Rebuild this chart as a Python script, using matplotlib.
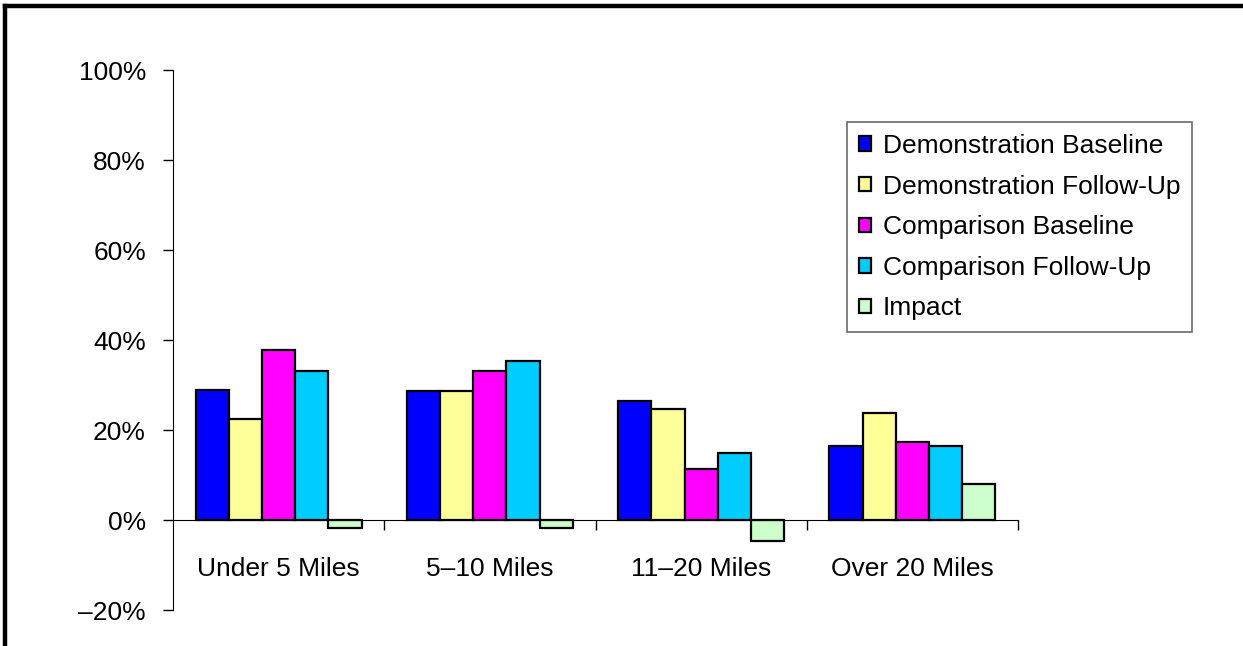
import numpy as np
import matplotlib.pyplot as plt
from matplotlib.lines import Line2D
from matplotlib.ticker import FuncFormatter

plt.rcParams["font.family"] = ["Liberation Sans", "DejaVu Sans"]

categories = ["Under 5 Miles", "5\u201310 Miles", "11\u201320 Miles", "Over 20 Miles"]
series = ["Demonstration Baseline", "Demonstration Follow-Up",
          "Comparison Baseline", "Comparison Follow-Up", "Impact"]
demo_base = [28.9, 28.6, 26.4, 16.5]
demo_follow = [22.5, 28.6, 24.6, 23.8]
comp_base = [37.8, 33.2, 11.4, 17.4]
comp_follow = [33.2, 35.3, 15.0, 16.5]
impact = [-1.7, -1.7, -4.7, 8.1]
colors = ["#0000FF", "#FFFF99", "#FF00FF", "#00CCFF", "#CCFFCC"]

values = [demo_base, demo_follow, comp_base, comp_follow, impact]
FS = 19

fig = plt.figure(figsize=(12.43, 6.46), dpi=100)
ax = fig.add_axes([0.1392, 0.0557, 0.819 - 0.1392, 0.8916 - 0.0557])

n = len(series)
width = 0.157
centers = np.arange(len(categories)) + 0.5
for i, (name, vals, col) in enumerate(zip(series, values, colors)):
    x = centers + (i - (n - 1) / 2) * width
    ax.bar(x, vals, width=width, color=col, edgecolor="black",
           linewidth=1.6, label=name, zorder=3)

ax.set_xlim(0, len(categories))
ax.set_ylim(-20, 100)
ax.set_yticks(range(-20, 101, 20))
ax.yaxis.set_major_formatter(FuncFormatter(
    lambda v, p: f"{int(v)}%".replace("-", "\u2013")))

# boundaries between groups get tick marks, labels sit at group centres
ax.set_xticks(range(1, len(categories) + 1))
ax.set_xticklabels([])
ax.set_xticks(centers, minor=True)
ax.set_xticklabels(categories, minor=True)
ax.tick_params(axis="x", which="major", direction="out", length=7, width=1)
ax.tick_params(axis="x", which="minor", length=0, pad=26.5, labelsize=FS)
ax.tick_params(axis="y", direction="out", length=7, width=1, labelsize=FS, pad=12.5)

for s in ["top", "right"]:
    ax.spines[s].set_visible(False)
ax.spines["bottom"].set_position(("data", 0))
ax.spines["bottom"].set_zorder(4)

leg = ax.legend(loc="upper left", bbox_to_anchor=(0.6814, 0.811),
                bbox_transform=fig.transFigure, borderaxespad=0,
                fontsize=FS, frameon=True, fancybox=False,
                edgecolor="#444444", handlelength=0.45, handleheight=0.45,
                handletextpad=0.45, labelspacing=0.63, borderpad=0.45)
leg.get_frame().set_linewidth(1.2)

# outer frame, top and left edges
fig.add_artist(Line2D([0.004, 1.0], [0.9907, 0.9907], color="black",
                      linewidth=3.2, transform=fig.transFigure))
fig.add_artist(Line2D([0.004, 0.004], [0.0, 0.9907], color="black",
                      linewidth=3.2, transform=fig.transFigure))

fig.savefig("out.png", dpi=100)
